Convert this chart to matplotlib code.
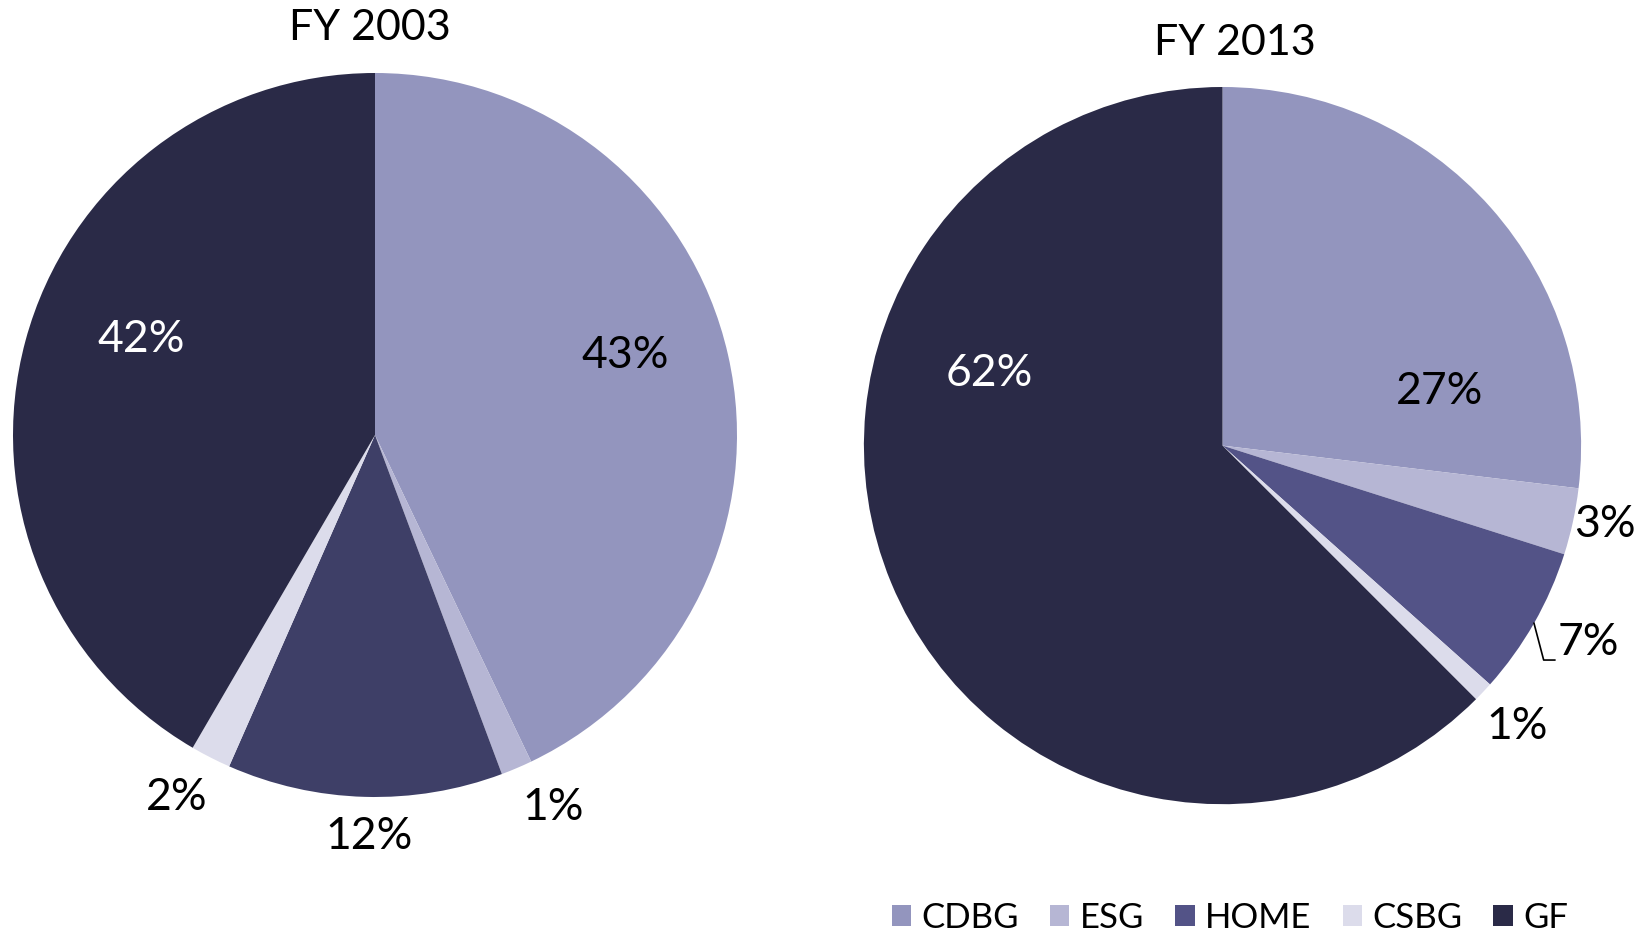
import numpy as np
import matplotlib
matplotlib.use("Agg")
import matplotlib.pyplot as plt
from matplotlib.patches import Patch

plt.rcParams['font.family'] = ['Lato', 'DejaVu Sans']

categories = ['CDBG', 'ESG', 'HOME', 'CSBG', 'GF']
values_2003 = [42.9, 1.4, 12.3, 1.8, 41.6]
values_2013 = [26.9, 3.0, 6.7, 0.9, 62.5]
titles = ['FY 2003', 'FY 2013']

colors_2003 = ['#9395BE', '#B6B6D4', '#3E3F67', '#DCDCEB', '#2A2A47']
colors_2013 = ['#9395BE', '#B6B6D4', '#535387', '#DCDCEB', '#2A2A47']

W, H = 1644, 934
fig = plt.figure(figsize=(W / 100, H / 100), dpi=100)

# pie geometry in pixels (center x, center y from top, radius)
geoms = [(375, 435, 362), (1222.5, 445.6, 358.6)]

# label positions in pie-radius units (layout only)
label_pos_2003 = [(0.69, 0.22), (0.492, -1.028), (-0.017, -1.11), (-0.548, -1.0), (-0.645, 0.264)]
label_pos_2013 = [(0.606, 0.15), (1.067, -0.221), (1.02, -0.55), (0.822, -0.784), (-0.651, 0.2)]
label_colors_2003 = ['black', 'black', 'black', 'black', 'white']
label_colors_2013 = ['black', 'black', 'black', 'black', 'white']
title_pos = [(370, 28), (1235, 43)]

datasets = [
    (values_2003, colors_2003, label_pos_2003, label_colors_2003),
    (values_2013, colors_2013, label_pos_2013, label_colors_2013),
]

axes = []
for i, ((cx, cy, r), (vals, cols, lpos, lcols)) in enumerate(zip(geoms, datasets)):
    ax = fig.add_axes([(cx - r) / W, (H - cy - r) / H, 2 * r / W, 2 * r / H])
    wedges, _ = ax.pie(vals, colors=cols, startangle=90, counterclock=False,
                       radius=1, wedgeprops=dict(linewidth=0))
    ax.set_xlim(-1, 1)
    ax.set_ylim(-1, 1)
    ax.set_axis_off()
    for v, (x, y), c in zip(vals, lpos, lcols):
        ax.text(x, y, f"{round(v)}%", ha='center', va='center', fontsize=32,
                color=c, clip_on=False)
    axes.append((ax, wedges))
    fig.text(title_pos[i][0] / W, 1 - title_pos[i][1] / H, titles[i],
             ha='center', va='center', fontsize=31, color='black')

# leader line for HOME 2013 label
ax2, wedges2 = axes[1]
w = wedges2[2]
mid = np.deg2rad((w.theta1 + w.theta2) / 2)
x0, y0 = np.cos(mid), np.sin(mid)
ax2.plot([x0, x0 + 0.027, x0 + 0.058], [y0, -0.598, -0.598], color='black',
         linewidth=1.2, clip_on=False)

handles = [Patch(facecolor=c, edgecolor='none') for c in colors_2013]
fig.legend(handles, categories, loc='center right', ncol=5, frameon=False,
           bbox_to_anchor=(1568 / W, 1 - 918 / H), fontsize=25,
           handlelength=0.55, handleheight=0.55, handletextpad=0.3,
           columnspacing=0.9, borderpad=0, borderaxespad=0)

fig.savefig('out.png', dpi=100, facecolor='white')
